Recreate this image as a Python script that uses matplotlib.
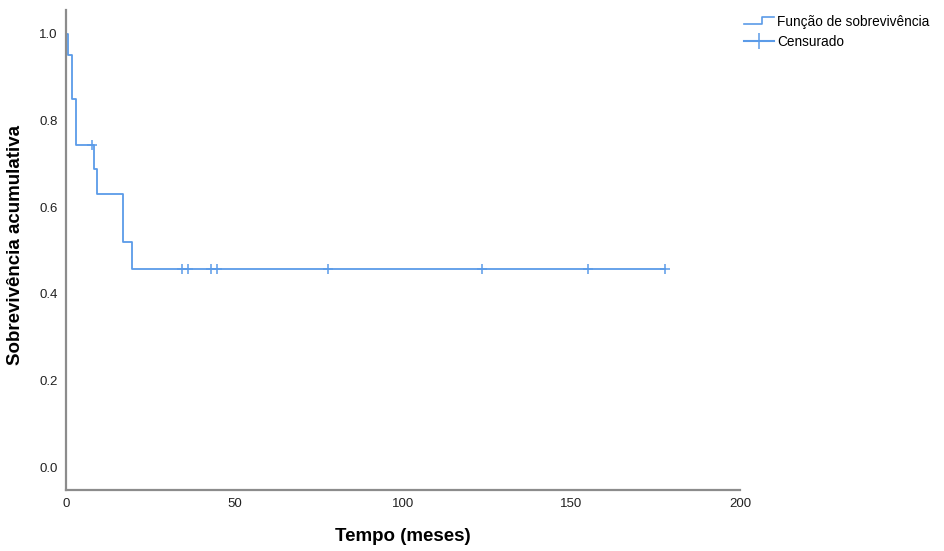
import numpy as np
import matplotlib
matplotlib.use('Agg')
from matplotlib import pyplot as plt
from matplotlib.lines import Line2D
from matplotlib.legend_handler import HandlerBase

plt.rcParams['font.family'] = ['Liberation Sans', 'DejaVu Sans']

## Kaplan-Meier steps
event_t = [0, 0.5, 1.8, 3.0, 8.2, 9.3, 17.0, 19.5, 177.8]
event_s = [1.0, 0.952, 0.850, 0.744, 0.687, 0.631, 0.519, 0.457, 0.457]
censor_t = [7.6, 34.3, 36.3, 43.0, 44.9, 77.8, 123.3, 154.8, 177.8]

line_col = '#5b9be8'
spine_col = '#8c8c8c'


def surv_at(t):
    idx = np.searchsorted(event_t, t, side='right') - 1
    return np.array(event_s)[idx]


censor_s = surv_at(np.array(censor_t))


class StepHandler(HandlerBase):
    def create_artists(self, legend, orig, xd, yd, w, h, fs, trans):
        x = [xd, xd + w * 0.6, xd + w * 0.6, xd + w]
        y = [h * 0.2 - yd, h * 0.2 - yd, h * 0.9 - yd, h * 0.9 - yd]
        ln = Line2D(x, y, color=line_col, linewidth=1.2, transform=trans)
        return [ln]


fig = plt.figure(figsize=(9.44, 5.51), dpi=100)
ax = fig.add_axes([0.0699, 0.1107, 0.714, 0.871])

ax.plot(event_t, event_s, drawstyle='steps-post', color=line_col, linewidth=1.3)
ax.plot(censor_t, censor_s, linestyle='none', marker='+', markersize=7,
        markeredgewidth=1.1, color=line_col)

ax.set_xlim(0, 200)
ax.set_ylim(-0.053, 1.055)
ax.set_xticks([0, 50, 100, 150, 200])
ax.set_yticks([0.0, 0.2, 0.4, 0.6, 0.8, 1.0])
ax.set_yticklabels(['0.0', '0.2', '0.4', '0.6', '0.8', '1.0'])
ax.tick_params(length=0, labelsize=9.5, colors='#222222', pad=6)

for sp in ['top', 'right']:
    ax.spines[sp].set_visible(False)
for sp in ['left', 'bottom']:
    ax.spines[sp].set_color(spine_col)
    ax.spines[sp].set_linewidth(1.6)

ax.set_xlabel('Tempo (meses)', fontsize=13.5, fontweight='bold', labelpad=13)
ax.set_ylabel('Sobrevivência acumulativa', fontsize=13.5, fontweight='bold')
ax.yaxis.set_label_coords(-0.062, 0.51)

h1 = Line2D([], [], color=line_col)
h2 = Line2D([], [], color=line_col, marker='+', markersize=11, markeredgewidth=1.1)
fig.legend([h1, h2], ['Função de sobrevivência', 'Censurado'],
           handler_map={h1: StepHandler()},
           loc='upper left', bbox_to_anchor=(0.775, 0.995), frameon=False,
           fontsize=9.8, handlelength=2.2, handletextpad=0.25, labelspacing=0.45)

plt.savefig('out.png', dpi=100)
